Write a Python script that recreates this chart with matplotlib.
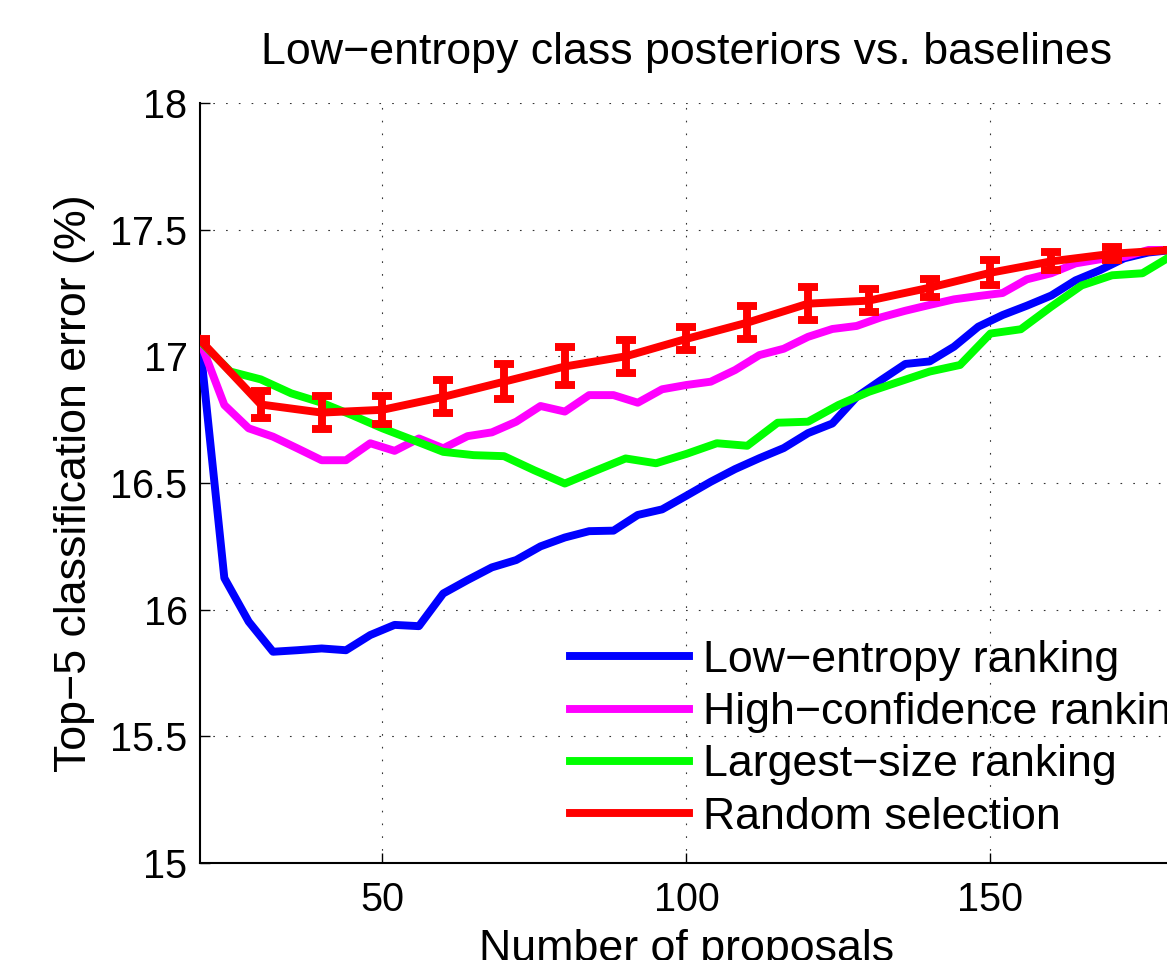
import numpy as np
import matplotlib
matplotlib.use('Agg')
import matplotlib.pyplot as plt

plt.rcParams['font.family'] = ['Liberation Sans', 'DejaVu Sans']

# proposals (x) for each series
x_step4 = list(range(20, 181, 4))
x_step5 = list(range(20, 181, 5))
x_step10 = list(range(20, 181, 10))

low_entropy = [17.05, 16.125, 15.953, 15.834, 15.84, 15.847, 15.84, 15.90, 15.94, 15.935,
               16.064, 16.117, 16.167, 16.196, 16.25, 16.285, 16.31, 16.312, 16.374, 16.396,
               16.45, 16.505, 16.555, 16.598, 16.638, 16.697, 16.735, 16.84, 16.906, 16.97,
               16.98, 17.038, 17.117, 17.163, 17.20, 17.24, 17.30, 17.34, 17.387, 17.41, 17.42]
high_conf = [17.06, 16.808, 16.716, 16.683, 16.637, 16.59, 16.59, 16.657, 16.627, 16.676,
             16.637, 16.685, 16.70, 16.742, 16.804, 16.782, 16.847, 16.847, 16.817, 16.87,
             16.887, 16.90, 16.946, 17.005, 17.03, 17.077, 17.108, 17.12, 17.154, 17.18,
             17.203, 17.225, 17.238, 17.25, 17.304, 17.328, 17.367, 17.383, 17.393, 17.42, 17.42]
largest_size = [17.06, 16.94, 16.909, 16.854, 16.817, 16.768, 16.716, 16.67, 16.623, 16.61,
                16.606, 16.55, 16.498, 16.548, 16.597, 16.578, 16.615, 16.657, 16.647, 16.738,
                16.742, 16.808, 16.86, 16.90, 16.94, 16.966, 17.09, 17.107, 17.196, 17.28,
                17.32, 17.328, 17.40]
random_mean = [17.065, 16.81, 16.778, 16.789, 16.84, 16.90, 16.96, 17.0, 17.069, 17.133,
               17.208, 17.22, 17.271, 17.33, 17.375, 17.405, 17.42]
random_err = [0.005, 0.055, 0.065, 0.055, 0.065, 0.07, 0.075, 0.065, 0.045, 0.065,
              0.065, 0.045, 0.035, 0.05, 0.035, 0.025, 0.0]

labels = ['Low\u2212entropy ranking', 'High\u2212confidence ranking',
          'Largest\u2212size ranking', 'Random selection']

fig = plt.figure(figsize=(11.67, 9.6), dpi=100)
ax = fig.add_axes([0.1714, 0.1010, 0.8336, 0.7917])

lw = 5.7
ax.plot(x_step4, low_entropy, color='#0000ff', lw=lw, label=labels[0], zorder=3)
ax.plot(x_step4, high_conf, color='#ff00ff', lw=lw, label=labels[1], zorder=3)
ax.plot(x_step5, largest_size, color='#00ff00', lw=lw, label=labels[2], zorder=3)
ax.plot(x_step10, random_mean, color='#ff0000', lw=lw, label=labels[3], zorder=4)
ax.errorbar(x_step10, random_mean, yerr=random_err, fmt='none', ecolor='#ff0000',
            elinewidth=lw, capsize=7.2, capthick=lw, zorder=4)

ax.set_xlim(20, 180)
ax.set_ylim(15, 18)
ax.set_xticks([50, 100, 150])
ax.set_yticks([15, 15.5, 16, 16.5, 17, 17.5, 18])
ax.set_yticklabels(['15', '15.5', '16', '16.5', '17', '17.5', '18'])
ax.tick_params(direction='in', length=7, width=1, labelsize=28.5)
ax.tick_params(axis='y', pad=9)
ax.tick_params(axis='x', pad=13)

ax.grid(True, color='#333333', linestyle=(0, (1.5, 10)), linewidth=0.8, zorder=0)
for side in ['top', 'right']:
    ax.spines[side].set_visible(False)
for side in ['left', 'bottom']:
    ax.spines[side].set_linewidth(1.5)

ax.set_title('Low\u2212entropy class posteriors vs. baselines', fontsize=32.2, pad=28)
ax.set_xlabel('Number of proposals', fontsize=32.2, labelpad=7)
ax.set_ylabel('Top\u22125 classification error (%)', fontsize=32.2, labelpad=11)

ax.legend(loc='upper left', bbox_to_anchor=(570 / 1167, 1 - 640 / 960),
          bbox_transform=fig.transFigure, frameon=False, fontsize=32.2,
          handlelength=2.66, handletextpad=0.31, labelspacing=0.25, borderpad=0,
          borderaxespad=0)

fig.savefig('out.png', dpi=100)
